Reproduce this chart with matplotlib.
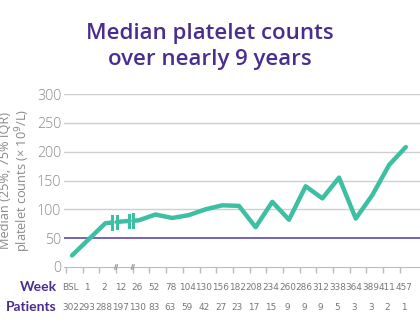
import numpy as np
import matplotlib
matplotlib.use("Agg")
import matplotlib.pyplot as plt
from matplotlib.transforms import blended_transform_factory

weeks = ["BSL", "1", "2", "12", "26", "52", "78", "104", "130", "156", "182",
         "208", "234", "260", "286", "312", "338", "364", "389", "411", "457"]
patients = [302, 293, 288, 197, 130, 83, 63, 59, 42, 27, 23,
            17, 15, 9, 9, 9, 5, 3, 3, 2, 1]
median_plt = [20, 48, 76, 79, 81, 91, 85, 90, 100, 107, 106,
              69, 113, 82, 140, 119, 155, 84, 125, 177, 208]
threshold = 50
breaks = [2.55, 3.55]  # axis breaks between week 2/12 and 12/26

teal = "#3dbfa3"
purple = "#4a2d8f"
grey = "#8a8a8a"

fig = plt.figure(figsize=(4.2, 3.31), dpi=100)
ax = fig.add_axes([64 / 420, 1 - 267 / 331, 1 - 64 / 420, 173 / 331])

x = np.arange(len(median_plt))
y = np.array(median_plt, dtype=float)

# gridlines + threshold
for g in [100, 150, 200, 250, 300]:
    ax.axhline(g, color="#cfcfcf", lw=1, zorder=1)
ax.axhline(threshold, color="#6c55b8", lw=1.3, zorder=2)

# line, broken at the axis breaks
gap = 0.13
edges = [x[0]] + [v for b in breaks for v in (b - gap, b + gap)] + [x[-1]]
for a, b in zip(edges[0::2], edges[1::2]):
    xs = np.concatenate([[a], x[(x > a) & (x < b)], [b]])
    ys = np.interp(xs, x, y)
    ax.plot(xs, ys, color=teal, lw=3.2, solid_capstyle="round", zorder=3)
    for xe in (a, b):
        if xe in (x[0], x[-1]):
            continue
        ye = np.interp(xe, x, y)
        ax.plot([xe, xe], [ye - 11, ye + 11], color=teal, lw=2.2, zorder=3)

ax.set_xlim(-0.48, 20.85)
ax.set_ylim(0, 300)
ax.set_yticks([0, 50, 100, 150, 200, 250, 300])
ax.tick_params(axis="y", length=0, labelsize=10.3, labelcolor=grey, pad=2)
for lab in ax.get_yticklabels():
    lab.set_family("Open Sans")
    lab.set_fontweight("light")

ticks = x - 0.36
ax.set_xticks(ticks)
ax.set_xticklabels([])
ax.tick_params(axis="x", length=4, color="#bbbbbb", width=1)
for s in ["top", "right", "left"]:
    ax.spines[s].set_visible(False)
ax.spines["bottom"].set_color("#bbbbbb")

# small double slashes on the axis at the breaks
for b in breaks:
    for dx in (0.04, 0.14):
        t = b + dx
        ax.plot([t - 0.04, t + 0.04], [-4, 4], color="#999999", lw=0.8,
                clip_on=False, zorder=4)

ax.set_ylabel("Median (25%, 75% IQR)\nplatelet counts (× 10$^9$/L)",
              fontsize=9.2, color=grey, linespacing=1.05, family="Open Sans")
ax.yaxis.set_label_coords(-0.088, 0.5)

title_kw = dict(ha="center", va="center", fontsize=16, fontweight="semibold",
                color=purple, family="Open Sans")
fig.text(0.5, 1 - 33 / 331, "Median platelet counts", **title_kw)
fig.text(0.5, 1 - 60 / 331, "over nearly 9 years", **title_kw)

tr = blended_transform_factory(ax.transData, fig.transFigure)
y_week = 1 - 287 / 331
y_pat = 1 - 307 / 331
fig.text(57 / 420, y_week, "Week", ha="right", va="center", fontsize=10,
         fontweight="bold", color=purple, family="Lato")
fig.text(57 / 420, y_pat, "Patients", ha="right", va="center", fontsize=10,
         fontweight="bold", color=purple, family="Lato")
for i, (w, p) in enumerate(zip(weeks, patients)):
    ax.text(i - 0.1, y_week, w, transform=tr, ha="center", va="center",
            fontsize=6.4, color="#777777", family="Liberation Sans Narrow")
    ax.text(i - 0.1, y_pat, str(p), transform=tr, ha="center", va="center",
            fontsize=6.4, color="#777777", family="Liberation Sans Narrow")

fig.savefig("out.png", dpi=100)
